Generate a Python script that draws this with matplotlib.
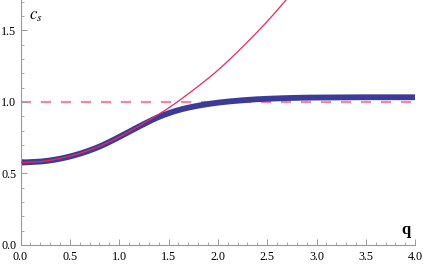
import numpy as np
import matplotlib
matplotlib.use("Agg")
import matplotlib.pyplot as plt
from matplotlib.ticker import MultipleLocator, FormatStrFormatter

# values
q_blue = [0.0, 0.2, 0.4, 0.6, 0.8, 1.0, 1.2, 1.4, 1.6, 1.8, 2.0, 2.2, 2.4,
          2.6, 2.8, 3.0, 3.5, 4.0]
cs_blue = [0.576, 0.583, 0.603, 0.638, 0.688, 0.755, 0.828, 0.895, 0.943,
           0.974, 0.995, 1.009, 1.019, 1.025, 1.029, 1.031, 1.033, 1.033]

q_red = [0.0, 0.25, 0.5, 0.75, 1.0, 1.25, 1.5, 1.75, 2.0, 2.25, 2.5, 2.75]
cs_red = [0.576, 0.587, 0.621, 0.677, 0.755, 0.852, 0.958, 1.083, 1.222,
          1.385, 1.563, 1.76]

cs_limit = 1.0


def smooth(x, y, n=20):
    # catmull-rom through the read points, just to hide the kinks
    x = np.asarray(x, float)
    y = np.asarray(y, float)
    px = np.concatenate([[2 * x[0] - x[1]], x, [2 * x[-1] - x[-2]]])
    py = np.concatenate([[2 * y[0] - y[1]], y, [2 * y[-1] - y[-2]]])
    xs, ys = [], []
    t = np.linspace(0, 1, n, endpoint=False)
    for i in range(1, len(px) - 2):
        for arr, out in ((px, xs), (py, ys)):
            p0, p1, p2, p3 = arr[i - 1:i + 3]
            out.extend(0.5 * (2 * p1 + (-p0 + p2) * t
                              + (2 * p0 - 5 * p1 + 4 * p2 - p3) * t ** 2
                              + (-p0 + 3 * p1 - 3 * p2 + p3) * t ** 3))
    xs.append(x[-1])
    ys.append(y[-1])
    return xs, ys


plt.rcParams['font.family'] = ['Liberation Serif', 'DejaVu Serif']

fig = plt.figure(figsize=(4.23, 2.64), dpi=100)
ax = fig.add_axes([0.0485, 0.072, 0.933, 0.928])

ax.axhline(cs_limit, color='#ff80a0', lw=1.6, dashes=(4.5, 4.5), zorder=1)
ax.plot(*smooth(q_blue, cs_blue), color='#3c3c98', lw=4.2,
        solid_capstyle='butt', zorder=2)
ax.plot(*smooth(q_red, cs_red), color='#f02858', lw=0.9, zorder=3)

ax.set_xlim(0, 4)
ax.set_ylim(0, 1.713)

for s in ['top', 'right']:
    ax.spines[s].set_visible(False)
for s in ['left', 'bottom']:
    ax.spines[s].set_color('#999999')
    ax.spines[s].set_linewidth(0.8)

ax.xaxis.set_major_locator(MultipleLocator(0.5))
ax.xaxis.set_minor_locator(MultipleLocator(0.1))
ax.yaxis.set_major_locator(MultipleLocator(0.5))
ax.yaxis.set_minor_locator(MultipleLocator(0.1))
ax.tick_params(which='major', direction='in', length=4, width=0.7,
               color='#999999', labelsize=8.7)
ax.tick_params(axis='x', which='major', pad=4)
ax.tick_params(axis='y', which='major', pad=3)
ax.tick_params(which='minor', direction='in', length=2, width=0.6,
               color='#999999')
ax.xaxis.set_major_formatter(FormatStrFormatter('%.1f'))
ax.yaxis.set_major_formatter(FormatStrFormatter('%.1f'))

ax.text(0.09, 1.66, r'$c_s$', fontsize=12, va='top', ha='left',
        math_fontfamily='stix')
ax.text(3.95, 0.05, 'q', fontsize=12, fontweight='bold', ha='right',
        va='bottom')

fig.savefig('out.png', dpi=100)
